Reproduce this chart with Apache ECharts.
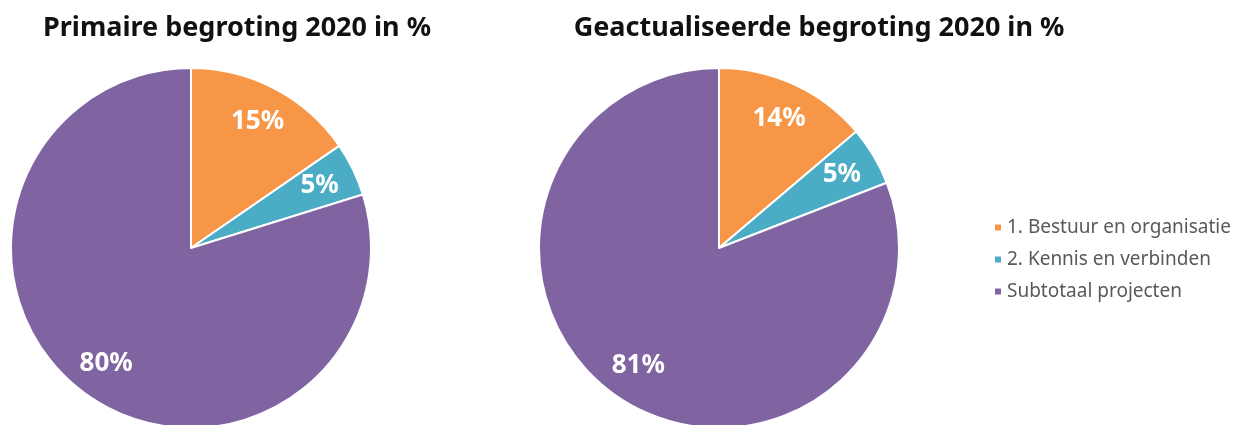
<!DOCTYPE html>
<html>
<head>
<meta charset="utf-8">
<script src="https://cdn.jsdelivr.net/npm/echarts@6/dist/echarts.min.js"></script>
<style>
  html, body { margin: 0; padding: 0; background: #fff; }
  #chart { width: 1252px; height: 425px; }
</style>
</head>
<body>
<div id="chart"></div>
<script>
// categorieen en waarden (in %)
var categories = ['1. Bestuur en organisatie', '2. Kennis en verbinden', 'Subtotaal projecten'];
var primaireValues = [15.4, 4.8, 79.8];
var geactualiseerdValues = [13.8, 5.3, 80.9];
var titles = ['Primaire begroting 2020 in %', 'Geactualiseerde begroting 2020 in %'];
var colors = ['#F79646', '#4BACC6', '#8064A2'];

var myChart = echarts.init(document.getElementById('chart'));

function toData(values) {
  return categories.map(function (name, i) {
    return { name: name, value: values[i] };
  });
}

// taartdiagram zelf
function pieSeries(values, center) {
  return {
    type: 'pie',
    center: center,
    radius: [0, 180],
    startAngle: 90,
    silent: true,
    label: { show: false },
    labelLine: { show: false },
    itemStyle: { borderColor: '#fff', borderWidth: 2 },
    data: toData(values)
  };
}

// doorzichtige ring, alleen voor de percentages
function labelSeries(values, center) {
  return {
    type: 'pie',
    center: center,
    radius: [100, 180],
    startAngle: 90,
    silent: true,
    itemStyle: { color: 'rgba(0,0,0,0)', borderWidth: 0 },
    label: {
      show: true,
      position: 'inside',
      color: '#fff',
      fontSize: 26,
      fontWeight: 'bold',
      fontFamily: 'Noto Sans',
      formatter: function (p) {
        return Math.round(p.percent) + '%';
      }
    },
    labelLine: { show: false },
    data: toData(values)
  };
}

var titleStyle = { fontSize: 27, fontWeight: 'bold', color: '#111', fontFamily: 'Noto Sans' };

var option = {
  backgroundColor: '#fff',
  color: colors,
  animation: false,
  title: [
    { text: titles[0], left: 232, top: 10, textAlign: 'center', textStyle: titleStyle },
    { text: titles[1], left: 814, top: 10, textAlign: 'center', textStyle: titleStyle }
  ],
  legend: {
    orient: 'vertical',
    left: 988,
    top: 213,
    icon: 'rect',
    itemWidth: 8,
    itemHeight: 8,
    itemGap: 13,
    data: categories,
    textStyle: { fontSize: 19, color: '#595959', fontFamily: 'Noto Sans' }
  },
  series: [
    pieSeries(primaireValues, [191, 248]),
    labelSeries(primaireValues, [191, 248]),
    pieSeries(geactualiseerdValues, [719, 248]),
    labelSeries(geactualiseerdValues, [719, 248])
  ]
};

myChart.setOption(option);
</script>
</body>
</html>
